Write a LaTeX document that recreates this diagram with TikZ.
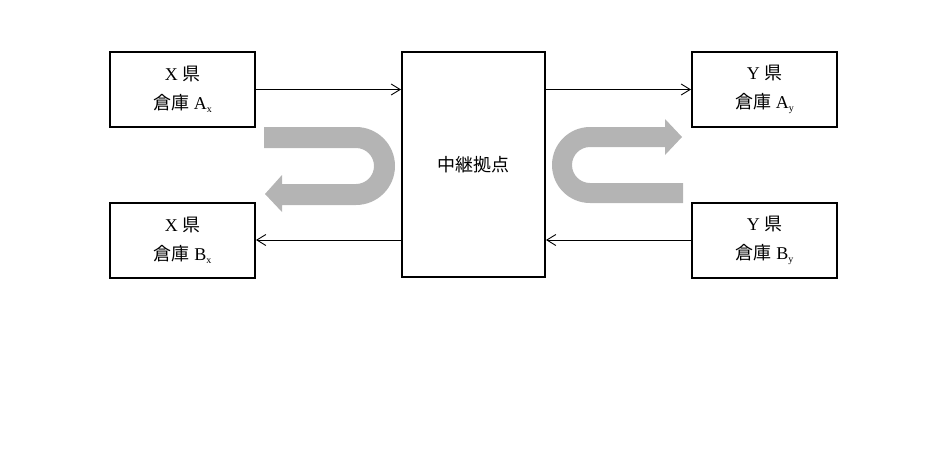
\documentclass[tikz,border=0pt]{standalone}
\usepackage{fontspec}
\setmainfont{Liberation Serif}
\newfontfamily\cjk{Noto Sans CJK JP}
\usetikzlibrary{arrows.meta}
\definecolor{ugray}{RGB}{180,180,180}
\newcommand{\sbx}[1]{\raisebox{-0.35ex}{\fontsize{10}{10}\selectfont #1}}
\begin{document}
\begin{tikzpicture}[x=1pt,y=-1pt,
  box/.style={draw,line width=2pt,inner sep=0pt,align=center,
    minimum width=145pt,minimum height=75pt,font=\fontsize{18}{29}\selectfont},
  link/.style={line width=0.9pt,-{Straight Barb[length=9pt,width=11pt]}}]
\useasboundingbox (0,0) rectangle (928,453);
\node[box] (xa) at (182.5,89.5) {X {\cjk 県}\\{\cjk 倉庫} A\sbx{x}};
\node[box] (xb) at (182.5,240) {X {\cjk 県}\\{\cjk 倉庫} B\sbx{x}};
\node[box,minimum width=143pt,minimum height=225pt] (hub) at (473.5,164.5) {\cjk 中継拠点};
\node[box] (ya) at (764.5,89.5) {Y {\cjk 県}\\{\cjk 倉庫} A\sbx{y}};
\node[box] (yb) at (764.5,240) {Y {\cjk 県}\\{\cjk 倉庫} B\sbx{y}};
\draw[link] (xa.east) -- (hub.west |- xa.east);
\draw[link] (hub.east |- ya.west) -- (ya.west);
\draw[link] (yb.west) -- (hub.east |- yb.west);
\draw[link] (hub.west |- xb.east) -- (xb.east);
% left U-turn arrow
\fill[ugray] (264,127) -- (356,127) arc(-90:90:39) -- (282,205) -- (282,212)
  -- (265,194) -- (282,175) -- (282,184) -- (356,184) arc(90:-90:18)
  -- (264,148) -- cycle;
% right U-turn arrow
\fill[ugray] (665,127) -- (590,127) arc(-90:-270:38) -- (683,203) -- (683,183)
  -- (590,183) arc(90:270:18) -- (665,147) -- (665,155) -- (682,137)
  -- (665,119) -- cycle;
\end{tikzpicture}
\end{document}
